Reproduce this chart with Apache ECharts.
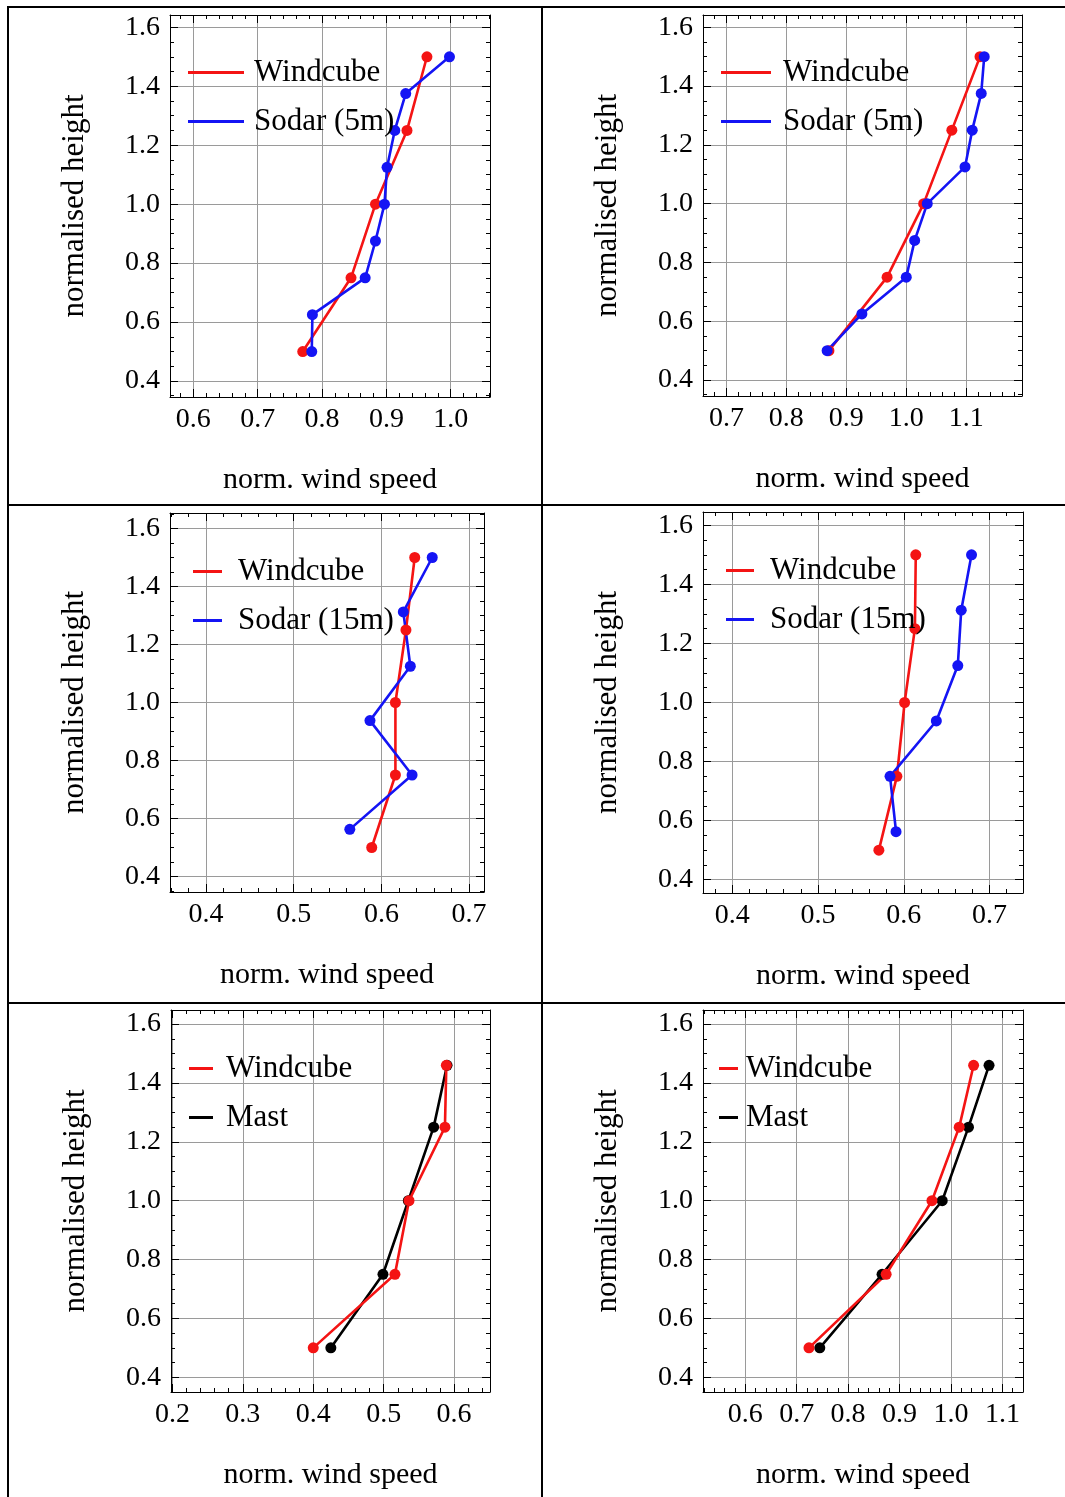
<!DOCTYPE html>
<html>
<head>
<meta charset="utf-8">
<script src="https://cdn.jsdelivr.net/npm/echarts@6/dist/echarts.min.js"></script>
<style>
  html, body { margin: 0; padding: 0; background: #fff; }
  #chart { width: 1065px; height: 1497px; }
</style>
</head>
<body>
<div id="chart"></div>
<script>
// normalised heights of each instrument
var hWindcube = [0.5, 0.75, 1.0, 1.25, 1.5];
var hSodar5 = [0.5, 0.625, 0.75, 0.875, 1.0, 1.125, 1.25, 1.375, 1.5];
var hSodar15 = [0.5625, 0.75, 0.9375, 1.125, 1.3125, 1.5];
var hWindcubeMast = [0.5, 0.75, 1.0, 1.25, 1.46];
var hMast = [0.5, 0.75, 1.0, 1.25, 1.46];

// norm. wind speed
var p1Windcube = [0.770, 0.845, 0.883, 0.932, 0.963];
var p1Sodar = [0.784, 0.785, 0.867, 0.883, 0.897, 0.901, 0.913, 0.930, 0.998];
var p2Windcube = [0.871, 0.968, 1.029, 1.076, 1.123];
var p2Sodar = [0.868, 0.926, 1.000, 1.014, 1.035, 1.098, 1.110, 1.125, 1.130];
var p3Windcube = [0.589, 0.616, 0.616, 0.628, 0.638];
var p3Sodar = [0.564, 0.635, 0.587, 0.633, 0.625, 0.658];
var p4Windcube = [0.571, 0.592, 0.601, 0.613, 0.614];
var p4Sodar = [0.591, 0.584, 0.638, 0.663, 0.667, 0.679];
var p5Windcube = [0.400, 0.516, 0.536, 0.587, 0.589];
var p5Mast = [0.425, 0.499, 0.535, 0.571, 0.590];
var p6Windcube = [0.724, 0.874, 0.963, 1.016, 1.044];
var p6Mast = [0.745, 0.866, 0.983, 1.034, 1.074];

// tick labels
var xTicks1 = [0.6, 0.7, 0.8, 0.9, 1.0];
var xTicks2 = [0.7, 0.8, 0.9, 1.0, 1.1];
var xTicks3 = [0.4, 0.5, 0.6, 0.7];
var xTicks4 = [0.4, 0.5, 0.6, 0.7];
var xTicks5 = [0.2, 0.3, 0.4, 0.5, 0.6];
var xTicks6 = [0.6, 0.7, 0.8, 0.9, 1.0, 1.1];
var yTicks = [0.4, 0.6, 0.8, 1.0, 1.2, 1.4, 1.6];

var RED = '#f41414', BLUE = '#1414f4', BLACK = '#000000';
var FONT = 'Liberation Serif';

function stepTicks(lo, hi, step) {
  var out = [];
  for (var k = Math.ceil(lo / step - 1e-9); k * step <= hi + 1e-9; k++) {
    out.push(+(k * step).toFixed(4));
  }
  return out;
}

var panels = [
  { box: [170, 15, 320, 382], x: [0.5637, 1.061], y: [0.3457, 1.6417], xTicks: xTicks1,
    series: [['Windcube', p1Windcube, hWindcube, RED], ['Sodar (5m)', p1Sodar, hSodar5, BLUE]],
    legend: ['Windcube', 'Sodar (5m)'], leg: [188, 56, 56, 5] },
  { box: [703, 15, 319, 381], x: [0.661, 1.193], y: [0.3457, 1.6417], xTicks: xTicks2,
    series: [['Windcube', p2Windcube, hWindcube, RED], ['Sodar (5m)', p2Sodar, hSodar5, BLUE]],
    legend: ['Windcube', 'Sodar (5m)'], leg: [721, 56, 50, 7] },
  { box: [170, 513, 314, 379], x: [0.359, 0.717], y: [0.3465, 1.6535], xTicks: xTicks3,
    series: [['Windcube', p3Windcube, hWindcube, RED], ['Sodar (15m)', p3Sodar, hSodar15, BLUE]],
    legend: ['Windcube', 'Sodar (15m)'], leg: [193, 555, 29, 11] },
  { box: [703, 512, 320, 381], x: [0.366, 0.739], y: [0.355, 1.645], xTicks: xTicks4,
    series: [['Windcube', p4Windcube, hWindcube, RED], ['Sodar (15m)', p4Sodar, hSodar15, BLUE]],
    legend: ['Windcube', 'Sodar (15m)'], leg: [726, 554, 28, 11] },
  { box: [171, 1010, 319, 382], x: [0.198, 0.651], y: [0.350, 1.648], xTicks: xTicks5,
    series: [['Mast', p5Mast, hMast, BLACK], ['Windcube', p5Windcube, hWindcubeMast, RED]],
    legend: ['Windcube', 'Mast'], leg: [189, 1052, 24, 8] },
  { box: [703, 1010, 320, 382], x: [0.518, 1.140], y: [0.350, 1.648], xTicks: xTicks6,
    series: [['Mast', p6Mast, hMast, BLACK], ['Windcube', p6Windcube, hWindcubeMast, RED]],
    legend: ['Windcube', 'Mast'], leg: [719, 1052, 19, 3] }
];

function fmt(v) { return v.toFixed(1); }

var grids = [], xAxes = [], yAxes = [], series = [], legends = [];
var frameLine = { show: true, onZero: false, lineStyle: { color: '#000', width: 1 } };

panels.forEach(function (p, gi) {
  grids.push({ left: p.box[0], top: p.box[1], width: p.box[2], height: p.box[3], outerBoundsMode: 'none' });

  var xMinor = stepTicks(p.x[0], p.x[1], 0.02);
  var yMinor = stepTicks(p.y[0], p.y[1], 0.05);

  ['bottom', 'top'].forEach(function (pos) {
    var main = pos === 'bottom';
    xAxes.push({
      type: 'value', gridIndex: gi, position: pos, min: p.x[0], max: p.x[1],
      name: main ? 'norm. wind speed' : '', nameLocation: 'middle', nameGap: 68,
      nameTextStyle: { fontFamily: FONT, fontSize: 30, color: '#000' },
      axisLine: frameLine,
      axisTick: { show: true, inside: true, length: 8, customValues: p.xTicks, lineStyle: { color: '#000' } },
      axisLabel: { show: main, customValues: p.xTicks, formatter: fmt, margin: 9,
        fontFamily: FONT, fontSize: 28, color: '#000' },
      splitLine: { show: main, lineStyle: { color: '#9a9a9a', width: 1 } }
    });
    xAxes.push({
      type: 'value', gridIndex: gi, position: pos, min: p.x[0], max: p.x[1],
      axisLine: { show: false },
      axisTick: { show: true, inside: true, length: 4, customValues: xMinor, lineStyle: { color: '#000' } },
      axisLabel: { show: false }, splitLine: { show: false }
    });
  });

  ['left', 'right'].forEach(function (pos) {
    var main = pos === 'left';
    yAxes.push({
      type: 'value', gridIndex: gi, position: pos, min: p.y[0], max: p.y[1],
      name: main ? 'normalised height' : '', nameLocation: 'middle', nameGap: 80, nameRotate: 90,
      nameTextStyle: { fontFamily: FONT, fontSize: 31, color: '#000' },
      axisLine: frameLine,
      axisTick: { show: true, inside: true, length: 8, customValues: yTicks, lineStyle: { color: '#000' } },
      axisLabel: { show: main, customValues: yTicks, formatter: fmt, margin: 10,
        fontFamily: FONT, fontSize: 28, color: '#000' },
      splitLine: { show: main, lineStyle: { color: '#9a9a9a', width: 1 } }
    });
    yAxes.push({
      type: 'value', gridIndex: gi, position: pos, min: p.y[0], max: p.y[1],
      axisLine: { show: false },
      axisTick: { show: true, inside: true, length: 4, customValues: yMinor, lineStyle: { color: '#000' } },
      axisLabel: { show: false }, splitLine: { show: false }
    });
  });

  p.series.forEach(function (s) {
    series.push({
      type: 'line', name: s[0], xAxisIndex: gi * 4, yAxisIndex: gi * 4,
      data: s[1].map(function (v, i) { return [v, s[2][i]]; }),
      symbol: 'circle', symbolSize: 11, showSymbol: true,
      lineStyle: { color: s[3], width: 2.6 },
      itemStyle: { color: s[3] },
      emphasis: { disabled: true },
      animation: false
    });
  });

  legends.push({
    data: p.legend, orient: 'vertical', left: p.leg[0], top: p.leg[1] + 1,
    icon: 'rect', itemWidth: p.leg[2], itemHeight: 3, itemGap: 18, padding: 0,
    selectedMode: false,
    textStyle: { fontFamily: FONT, fontSize: 31, color: '#000', padding: [0, 0, 0, p.leg[3]] }
  });
});

var tableLine = { stroke: '#000', lineWidth: 2 };
var chart = echarts.init(document.getElementById('chart'), null, { renderer: 'canvas' });
chart.setOption({
  backgroundColor: '#fff',
  animation: false,
  grid: grids,
  xAxis: xAxes,
  yAxis: yAxes,
  legend: legends,
  series: series,
  graphic: [
    { type: 'line', shape: { x1: 7, y1: 7, x2: 1065, y2: 7 }, style: tableLine },
    { type: 'line', shape: { x1: 8, y1: 7, x2: 8, y2: 1497 }, style: tableLine },
    { type: 'line', shape: { x1: 542, y1: 7, x2: 542, y2: 1497 }, style: tableLine },
    { type: 'line', shape: { x1: 8, y1: 505, x2: 1065, y2: 505 }, style: tableLine },
    { type: 'line', shape: { x1: 8, y1: 1003, x2: 1065, y2: 1003 }, style: tableLine }
  ]
});
</script>
</body>
</html>
